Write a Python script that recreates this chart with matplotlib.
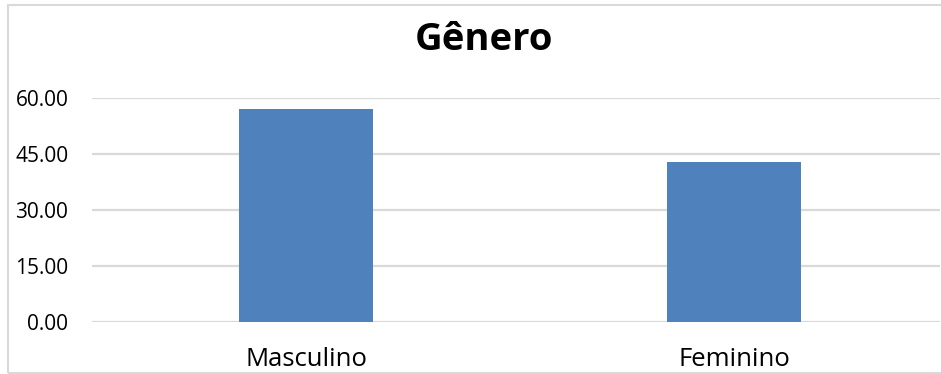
import matplotlib.pyplot as plt
from matplotlib.patches import Rectangle

categories = ["Masculino", "Feminino"]
values = [57.14, 42.86]
yticks = [0, 15, 30, 45, 60]

plt.rcParams['font.family'] = ['Open Sans', 'DejaVu Sans']

fig = plt.figure(figsize=(9.41, 3.74), dpi=100)
W, H = 941, 374
ax = fig.add_axes([92 / W, 1 - 322 / H, (940 - 92) / W, (322 - 98) / H])

ax.bar(range(len(categories)), values, width=0.313, color="#4f81bd", zorder=3)
ax.set_xlim(-0.5, 1.48)
ax.set_ylim(0, 60)
ax.set_yticks(yticks)
ax.set_yticklabels([f"{v:.2f}" for v in yticks], fontsize=15)
ax.set_xticks(range(len(categories)))
ax.set_xticklabels(categories, fontsize=18.5)
ax.grid(axis="y", color="#d9d9d9", linewidth=1.6, zorder=0)
ax.tick_params(axis="both", length=0)
ax.tick_params(axis="y", pad=17)
ax.tick_params(axis="x", pad=18)
for s in ax.spines.values():
    s.set_visible(False)

fig.text(484 / W, 1 - 40 / H, "Gênero", ha="center", va="center",
         fontsize=27.5, fontweight="bold")

# chart border
fig.patches.append(Rectangle((7.5 / W, 1 - 372.5 / H), (945 - 7.5) / W, (372.5 - 4.5) / H,
                             transform=fig.transFigure, fill=False,
                             edgecolor="#d9d9d9", linewidth=1.5))

fig.savefig("out.png", dpi=100)
